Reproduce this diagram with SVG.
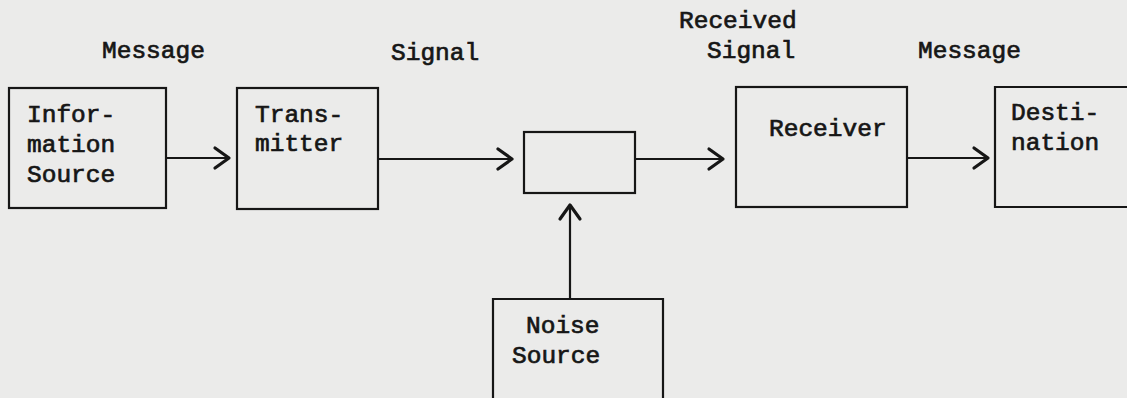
<svg xmlns="http://www.w3.org/2000/svg" width="1127" height="398" viewBox="0 0 1127 398">
<style>
.bg{fill:#ebebea}
.box{fill:none;stroke:#161616;stroke-width:2.2}
.t{font-family:"Liberation Mono","Courier New",monospace;font-size:24.5px;font-weight:normal;fill:#161616;stroke:#161616;stroke-width:0.7}
.c{stroke:#161616;stroke-width:2.2;fill:none}
</style>
<defs>
<marker id="ah" markerUnits="userSpaceOnUse" markerWidth="30" markerHeight="30" viewBox="-20 -15 30 30" refX="0" refY="0" orient="auto">
<path d="M-14,-10 L0,0 L-14,10" fill="none" stroke="#161616" stroke-width="3.2" stroke-linecap="round" stroke-linejoin="round"/>
</marker>
</defs>
<rect class="bg" x="0" y="0" width="1127" height="398"/>
<g id="labels">
<text class="t" x="102" y="58">Message</text>
<text class="t" x="391" y="60">Signal</text>
<text class="t" x="679" y="28">Received</text>
<text class="t" x="707" y="58">Signal</text>
<text class="t" x="918" y="58">Message</text>
</g>
<g id="info-source">
<rect class="box" x="9" y="88" width="157" height="120"/>
<text class="t" x="27" y="122">Infor-</text>
<text class="t" x="27" y="152">mation</text>
<text class="t" x="27" y="182">Source</text>
</g>
<g id="transmitter">
<rect class="box" x="237" y="88" width="141" height="121"/>
<text class="t" x="255" y="122">Trans-</text>
<text class="t" x="255" y="151">mitter</text>
</g>
<g id="channel">
<rect class="box" x="524" y="132" width="111" height="61"/>
</g>
<g id="receiver">
<rect class="box" x="736" y="87" width="171" height="120"/>
<text class="t" x="769" y="136">Receiver</text>
</g>
<g id="destination">
<path class="box" d="M1135,87 L995,87 L995,207 L1135,207"/>
<text class="t" x="1011" y="120">Desti-</text>
<text class="t" x="1011" y="150">nation</text>
</g>
<g id="noise-source">
<path class="box" d="M493,410 L493,299 L663,299 L663,410"/>
<text class="t" x="526" y="333">Noise</text>
<text class="t" x="512" y="363">Source</text>
</g>
<g id="connectors">
<line class="c" x1="166" y1="158" x2="229" y2="158" marker-end="url(#ah)"/>
<line class="c" x1="378" y1="159" x2="512" y2="159" marker-end="url(#ah)"/>
<line class="c" x1="635" y1="159" x2="723" y2="159" marker-end="url(#ah)"/>
<line class="c" x1="907" y1="158" x2="988" y2="158" marker-end="url(#ah)"/>
<line class="c" x1="570" y1="299" x2="570" y2="205" marker-end="url(#ah)"/>
</g>
</svg>
